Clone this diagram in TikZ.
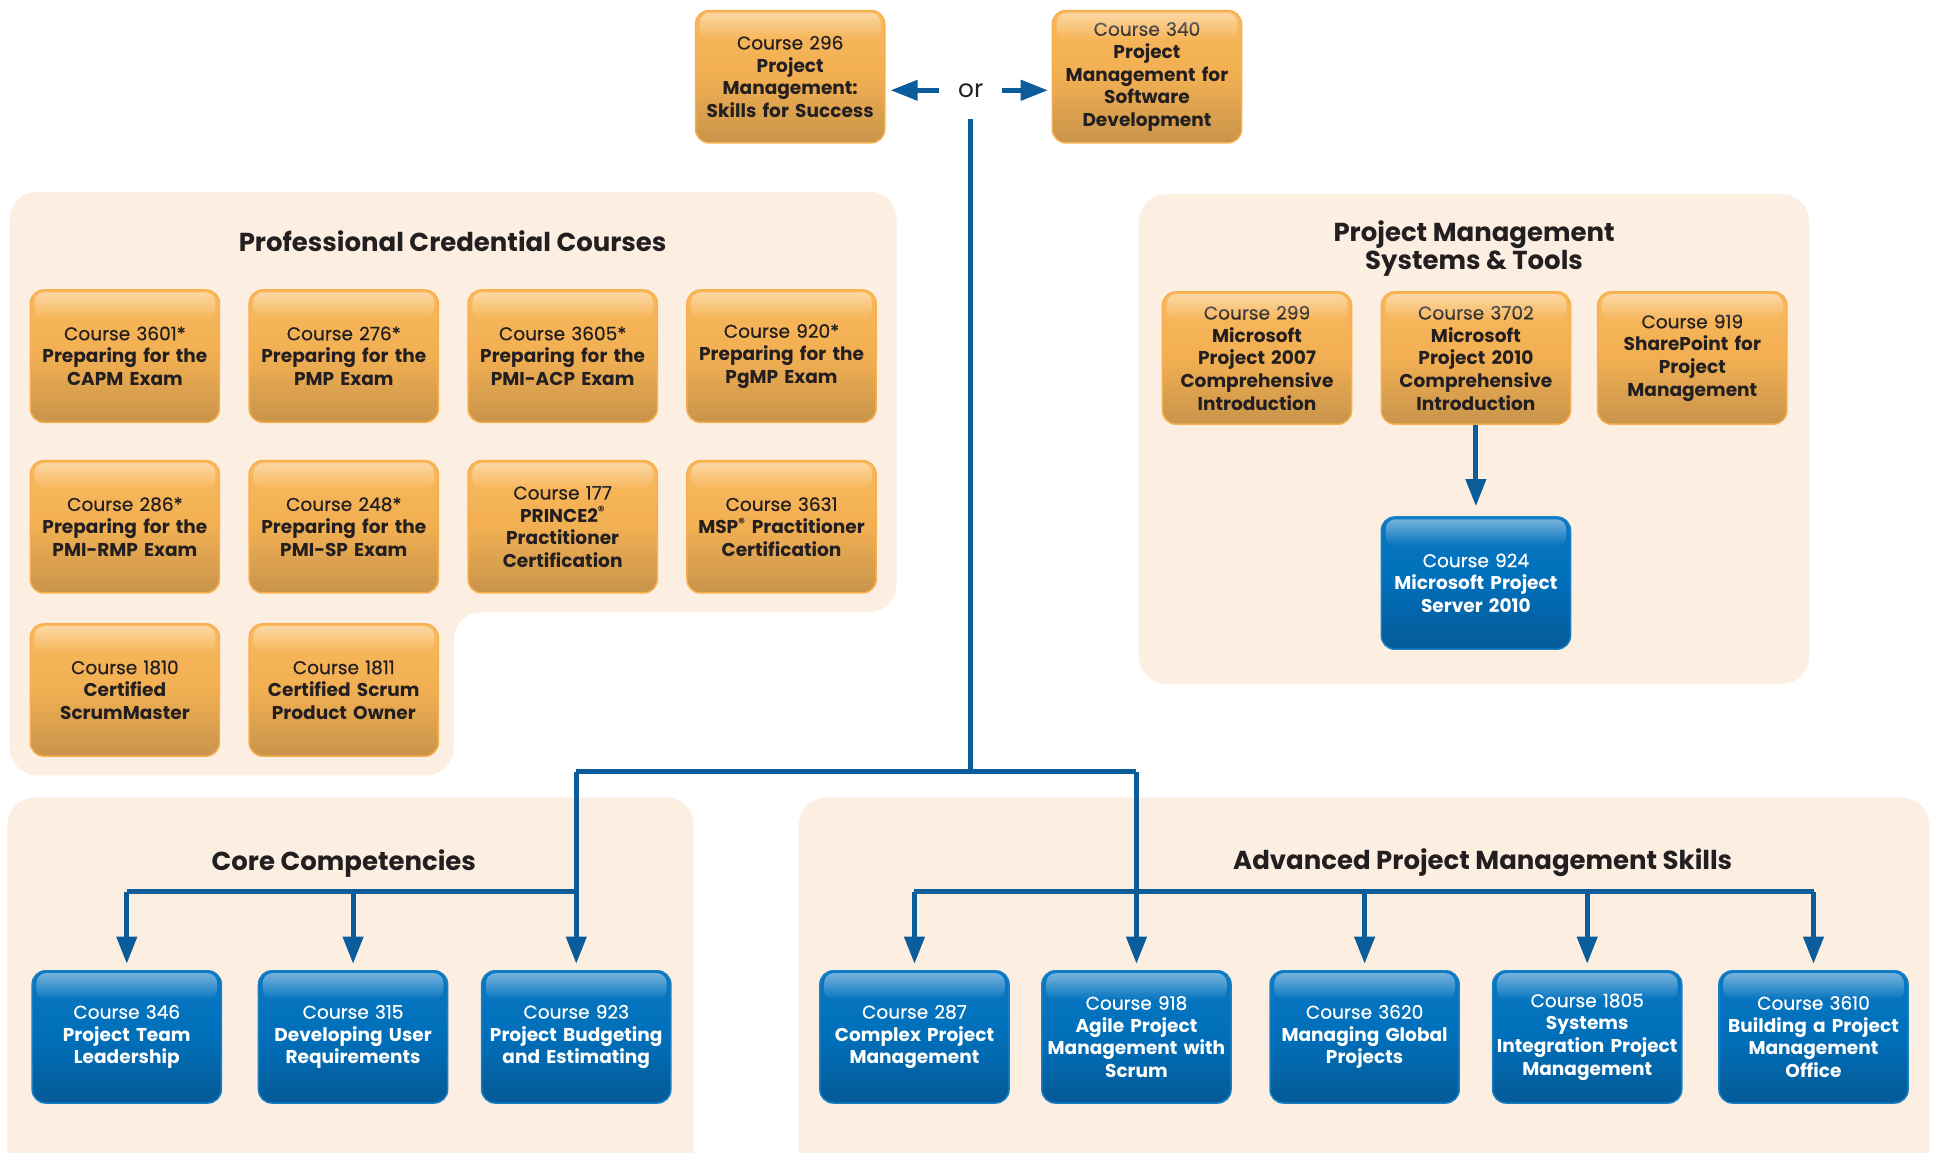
\documentclass[tikz,border=0pt]{standalone}
\usepackage{fontspec}
\setmainfont{Poppins}
\newfontfamily\medfont{Poppins}[FakeBold=0.5]
\usetikzlibrary{arrows.meta,fadings}
\definecolor{panel}{HTML}{FCEFE2}
\definecolor{otop}{HTML}{FAB95D}
\definecolor{omid}{HTML}{F1AF52}
\definecolor{obot}{HTML}{C8944B}
\definecolor{oedge}{HTML}{F7AE4C}
\definecolor{btop}{HTML}{0A78C2}
\definecolor{bmid}{HTML}{006FB9}
\definecolor{bbot}{HTML}{055A97}
\definecolor{bedge}{HTML}{1A80C6}
\definecolor{conn}{HTML}{0B5C9A}
\definecolor{ink}{HTML}{231F20}
\tikzfading[name=glossfade, top color=transparent!20, bottom color=transparent!100]
\tikzset{
  box/.style={rectangle, rounded corners=11pt, minimum width=153pt, minimum height=107pt,
    text width=150pt, inner sep=1.5pt, align=center, font=\fontsize{15}{18.3}\selectfont, line width=1.2pt},
  obox/.style={box, draw=oedge, top color=otop, bottom color=obot, middle color=omid, text=ink},
  bbox/.style={box, draw=bedge, top color=btop, bottom color=bbot, middle color=bmid, text=white},
  panelbg/.style={fill=panel, rounded corners=22pt},
  title/.style={font=\fontsize{21}{23}\selectfont\bfseries, text=ink, align=center},
  link/.style={draw=conn, line width=4pt},
  arr/.style={link, -{Triangle[length=22pt,width=16pt]}},
}
\newcommand\gloss[1]{\fill[white, path fading=glossfade, fill opacity=0.55, rounded corners=8pt]
  ([xshift=4pt,yshift=-2.5pt]#1.north west) rectangle ([xshift=-4pt,yshift=-24pt]#1.north east);}
\newcommand\ob[4]{\node[obox] (#1) at (#2) {{\medfont #3}\\\bfseries #4}; \gloss{#1}}
\newcommand\bb[4]{\node[bbox] (#1) at (#2) {{\medfont #3}\\\bfseries #4}; \gloss{#1}}
\begin{document}
\begin{tikzpicture}[x=1pt,y=-1pt]
\useasboundingbox (0,0) rectangle (1568,932);
\clip (0,0) rectangle (1568,932);
\fill[white] (0,0) rectangle (1568,932);
% panels
\fill[panelbg] (8,155) -- (725,155) -- (725,495) -- (367,495) -- (367,627) -- (8,627) -- cycle;
\fill[panelbg] (921,157) rectangle (1463,553);
\fill[panelbg] (6,645) rectangle (561,980);
\fill[panelbg] (646,645) rectangle (1560,980);
% titles
\node[title] (tpro) at (366,195) {Professional Credential Courses};
\node[title] (tpms) at (1192,201) {Project Management\\Systems \& Tools};
\node[title] (tcore) at (278,698) {Core Competencies};
\node[title] (tadv) at (1199,698) {Advanced Project Management Skills};
% top
\ob{c296}{639,62}{Course 296}{Project\\Management:\\Skills for Success}
\ob{c340}{927.5,62}{Course 340}{Project\\Management for\\Software\\Development}
\node[font=\fontsize{20}{22}\selectfont, text=ink, inner sep=0pt] (or) at (785,73) {or};
% professional
\ob{c3601}{101,288}{Course 3601*}{Preparing for the\\CAPM Exam}
\ob{c276}{278,288}{Course 276*}{Preparing for the\\PMP Exam}
\ob{c3605}{455,288}{Course 3605*}{Preparing for the\\PMI-ACP Exam}
\ob{c920}{632,288}{Course 920*}{Preparing for the\\PgMP Exam}
\ob{c286}{101,426}{Course 286*}{Preparing for the\\PMI-RMP Exam}
\ob{c248}{278,426}{Course 248*}{Preparing for the\\PMI-SP Exam}
\ob{c177}{455,426}{Course 177}{PRINCE2\textsuperscript{®}\\Practitioner\\Certification}
\ob{c3631}{632,426}{Course 3631}{MSP\textsuperscript{®} Practitioner\\Certification}
\ob{c1810}{101,558}{Course 1810}{Certified\\ScrumMaster}
\ob{c1811}{278,558}{Course 1811}{Certified Scrum\\Product Owner}
% systems
\ob{c299}{1016.5,289.5}{Course 299}{Microsoft\\Project 2007\\Comprehensive\\Introduction}
\ob{c3702}{1193.5,289.5}{Course 3702}{Microsoft\\Project 2010\\Comprehensive\\Introduction}
\ob{c919}{1368.5,289.5}{Course 919}{SharePoint for\\Project\\Management}
\bb{c924}{1193.5,471.5}{Course 924}{Microsoft Project\\Server 2010}
% core
\bb{c346}{102.5,838.5}{Course 346}{Project Team\\Leadership}
\bb{c315}{285.5,838.5}{Course 315}{Developing User\\Requirements}
\bb{c923}{466,838.5}{Course 923}{Project Budgeting\\and Estimating}
% advanced
\bb{c287}{739.5,838.5}{Course 287}{Complex Project\\Management}
\bb{c918}{919,838.5}{Course 918}{Agile Project\\Management with\\Scrum}
\bb{c3620}{1103.5,838.5}{Course 3620}{Managing Global\\Projects}
\bb{c1805}{1283.5,838.5}{Course 1805}{Systems\\Integration Project\\Management}
\bb{c3610}{1466.5,838.5}{Course 3610}{Building a Project\\Management\\Office}
% connectors
\coordinate (trunk) at (785,96);
\coordinate (j) at (785,624);
\coordinate (jl) at (466,624);
\coordinate (jr) at (919,624);
\coordinate (cb) at (466,721);
\coordinate (ab) at (919,721);
\draw[arr, shorten <=15pt, shorten >=4pt] (or.west) -- (c296.east |- or.west);
\draw[arr, shorten <=15pt, shorten >=3pt] (or.east) -- (c340.west |- or.east);
\draw[link] (trunk) -- (j);
\draw[link] (jl) -- (jr);
\draw[arr, shorten >=5pt] (jl) -- (c923.north);
\draw[arr, shorten >=5pt] (jr) -- (c918.north);
\draw[link] (c346.north |- cb) -- (cb);
\draw[arr, shorten >=5pt] (c346.north |- cb) -- (c346.north);
\draw[arr, shorten >=5pt] (c315.north |- cb) -- (c315.north);
\draw[link] (c287.north |- ab) -- (c3610.north |- ab);
\draw[arr, shorten >=5pt] (c287.north |- ab) -- (c287.north);
\draw[arr, shorten >=5pt] (c3620.north |- ab) -- (c3620.north);
\draw[arr, shorten >=5pt] (c1805.north |- ab) -- (c1805.north);
\draw[arr, shorten >=5pt] (c3610.north |- ab) -- (c3610.north);
\draw[arr, shorten >=8pt] (c3702.south) -- (c924.north);
\end{tikzpicture}
\end{document}
